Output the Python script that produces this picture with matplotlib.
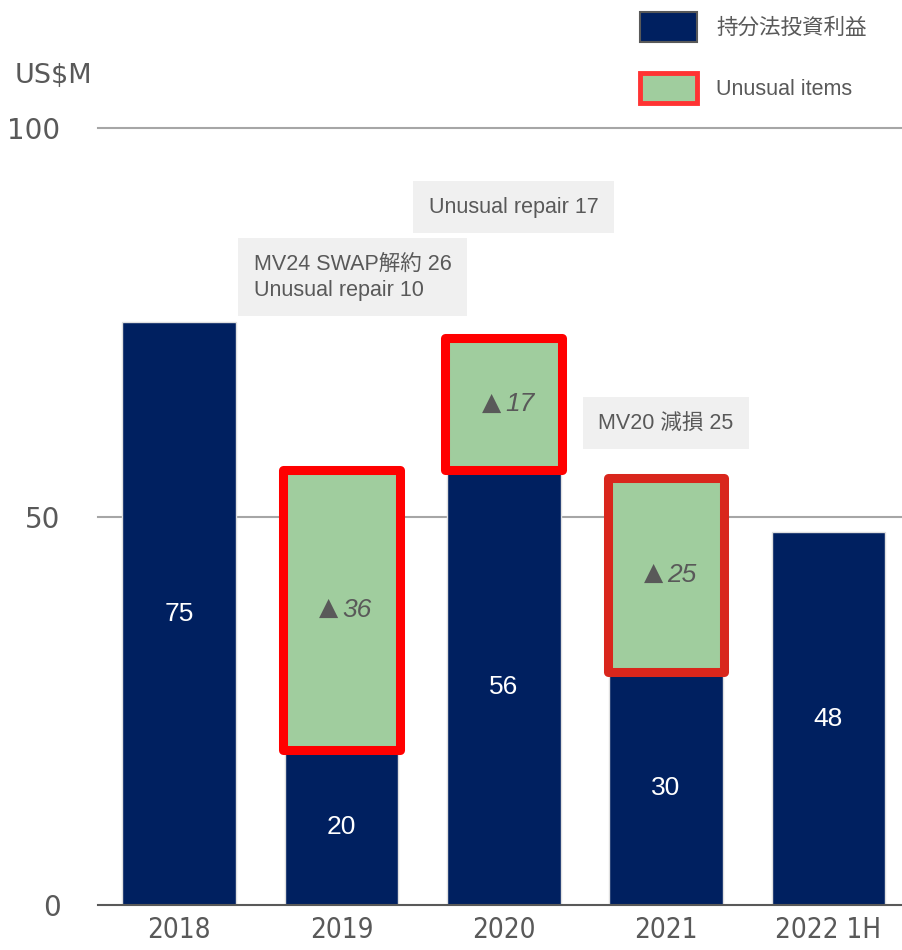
import numpy as np
import matplotlib.pyplot as plt
from matplotlib.patches import Patch

# data
years = ['2018', '2019', '2020', '2021', '2022 1H']
equity_income = [75, 20, 56, 30, 48]
unusual = [0, 36, 17, 25, 0]
unusual_edge = ['#ff0000', '#ff0000', '#ff0000', '#d9261c', '#ff0000']
notes = ['', 'MV24 SWAP解約 26\nUnusual repair 10', 'Unusual repair 17', 'MV20 減損 25', '']
note_pos = [(0, 0), (1.07, 80.8), (2.06, 89.8), (3.0, 62.0), (0, 0)]

navy = '#002060'
green = '#a0cd9e'
grey_txt = '#595959'
jp_font = ['Liberation Sans', 'Noto Sans CJK JP', 'DejaVu Sans']

fig = plt.figure(figsize=(9.03, 9.5), dpi=100)
ax = fig.add_axes([98 / 903, 1 - 905 / 950, 1 - 98 / 903, (905 - 128) / 950])

index = np.arange(len(years))
bar_width = 0.70

ax.bar(index, equity_income, bar_width, color=navy, edgecolor='#e0e0e0',
       linewidth=1.0, zorder=2)

# unusual items stacked on top, outlined in red
for i in index:
    if unusual[i] == 0:
        continue
    r = ax.bar(i, unusual[i], 0.72, bottom=equity_income[i], color=green,
               edgecolor=unusual_edge[i], linewidth=6.5, zorder=3)[0]
    r.set_joinstyle('round')

# value labels
for i in index:
    ax.text(i, equity_income[i] / 2, str(equity_income[i]), color='white',
            fontsize=19, ha='center', va='center', family=jp_font, zorder=4)
    if unusual[i]:
        y = equity_income[i] + unusual[i] / 2
        ax.annotate('▲', (i, y), xytext=(-2, 1), textcoords='offset points',
                    color=grey_txt, fontsize=18, ha='right', va='center',
                    family=['DejaVu Sans'], zorder=4)
        ax.annotate(str(unusual[i]), (i, y), xytext=(1, 0), textcoords='offset points',
                    color=grey_txt, fontsize=19, ha='left', va='center',
                    style='italic', family=jp_font, zorder=4)

# breakdown notes
for i in index:
    if notes[i]:
        ax.text(note_pos[i][0], note_pos[i][1], notes[i], color=grey_txt,
                fontsize=15.5, ha='center', va='center', multialignment='left',
                family=jp_font, linespacing=1.3, zorder=4, clip_on=False,
                bbox=dict(boxstyle='square,pad=0.72', facecolor='#f0f0f0',
                          edgecolor='none'))

# axes
ax.set_xlim(-0.5, 4.46)
ax.set_ylim(0, 100)
for y in (50, 100):
    ax.axhline(y, color='#a6a6a6', linewidth=1.5, zorder=1, clip_on=False)
for s in ('top', 'right', 'left'):
    ax.spines[s].set_visible(False)
ax.spines['bottom'].set_color(grey_txt)
ax.spines['bottom'].set_linewidth(1.5)
ax.spines['bottom'].set_zorder(5)

ax.set_xticks(index)
ax.set_xticklabels(years, fontsize=20, color=grey_txt, family='DejaVu Sans',
                   fontstretch='condensed')
ax.set_yticks([0, 50, 100])
ax.set_yticklabels(['0', '50', '100'], fontsize=20, color=grey_txt,
                   family='DejaVu Sans')
ax.tick_params(axis='both', length=0)
ax.tick_params(axis='y', pad=27)
ax.tick_params(axis='x', pad=8)

fig.text(15 / 903, 1 - 76 / 950, 'US$M', fontsize=19.5, color=grey_txt,
         ha='left', va='center', family='DejaVu Sans')

handles = [Patch(facecolor=navy, edgecolor='#595959', linewidth=1.5),
           Patch(facecolor=green, edgecolor='#ff3333', linewidth=3.5)]
leg = fig.legend(handles, ['持分法投資利益', 'Unusual items'], loc='upper left',
                 bbox_to_anchor=(640 / 903, 1 - 12 / 950), frameon=False,
                 prop={'family': jp_font, 'size': 15.5},
                 handlelength=2.65, handleheight=1.8, labelspacing=1.4,
                 handletextpad=0.9, borderpad=0, borderaxespad=0)
for t in leg.get_texts():
    t.set_color(grey_txt)

fig.savefig('out.png', dpi=100)
